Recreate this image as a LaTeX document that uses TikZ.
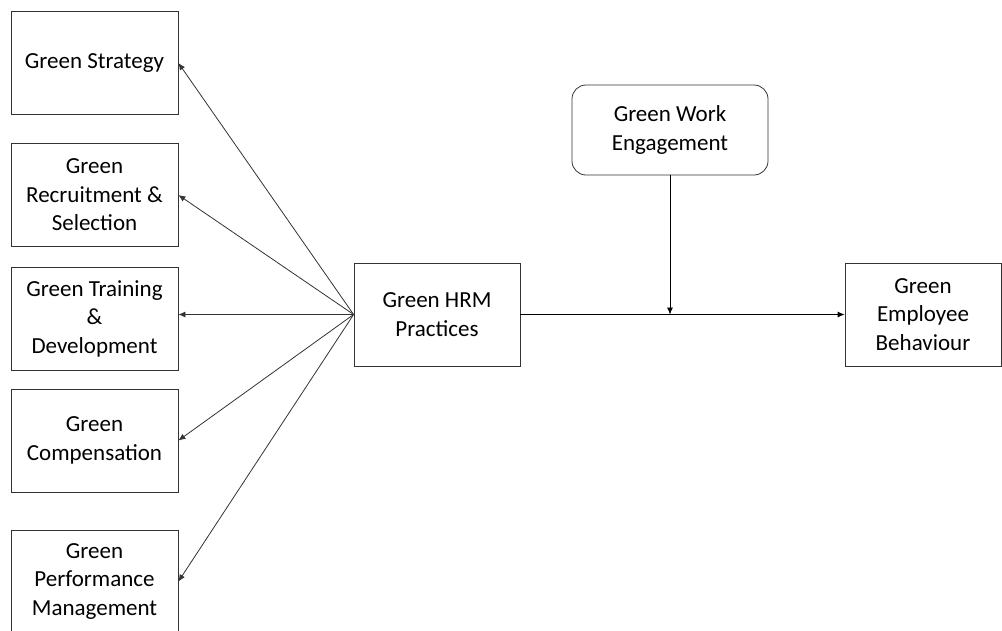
\documentclass[tikz,border=0pt]{standalone}
\usepackage{fontspec}
\setmainfont{Carlito}
\usetikzlibrary{positioning, arrows.meta}

\begin{document}
\begin{tikzpicture}[x=1pt, y=-1pt, >={Latex[length=7pt,width=6pt]},
      line width=0.8pt, draw=black!80,
      box/.style={rectangle, draw=black!80, inner sep=0pt, minimum width=167pt,
        minimum height=103pt, align=center,
        font=\fontsize{23}{28.5}\selectfont},
      mbox/.style={box, rounded corners=14pt, minimum width=196pt, minimum height=90pt}]
      \useasboundingbox (0,0) rectangle (1002,630);
      % practices on the left
      \node[box] (strat) at (94.5,63) {Green Strategy};
      \node[box] (recr) at (94.5,195) {Green\\Recruitment \&\\Selection};
      \node[box] (train) at (94.5,318.5) {Green Training\\\&\\Development};
      \node[box] (comp) at (94.5,440.5) {Green\\Compensation};
      \node[box] (perf) at (94.5,581.5) {Green\\Performance\\Management};
      % main path
      \node[box, minimum width=166pt] (hrm) at (437,314.5) {Green HRM\\Practices};
      \node[mbox] (gwe) at (670,130) {Green Work\\Engagement};
      \node[box, minimum width=156pt] (geb) at (923,314.5) {Green\\Employee\\Behaviour};
      \coordinate (jn) at (gwe.south |- hrm.east);
      % arrows
      \foreach \b in {strat, recr, comp, perf}
        \draw[->, black!80] (hrm.west) -- (\b.east);
      \draw[->, black!80] (hrm.west) -- (train.east |- hrm.west);
      \draw[->, black] (hrm.east) -- (geb.west);
      \draw[->, black] (gwe.south) -- (jn);
\end{tikzpicture}
\end{document}
